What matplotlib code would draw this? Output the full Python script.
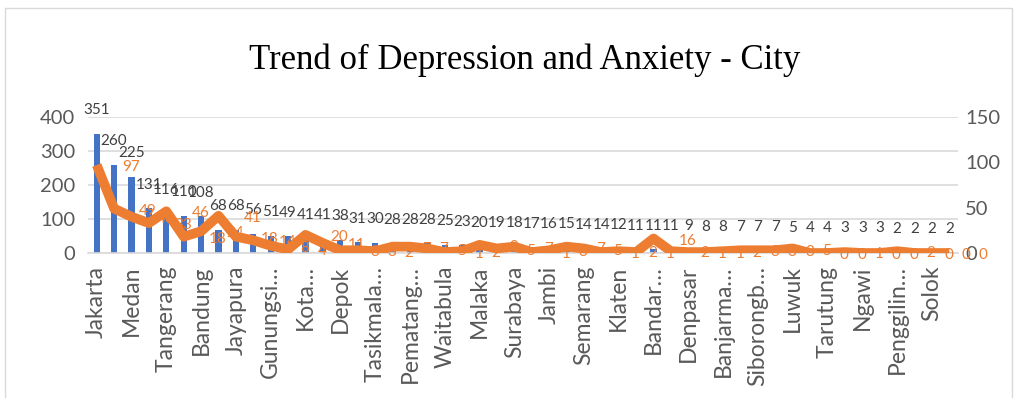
import matplotlib
matplotlib.use("Agg")
import matplotlib.pyplot as plt
from matplotlib.patches import Rectangle
import numpy as np

# Number of cases per city (bars, left axis)
city_counts = [351, 260, 225, 131, 116, 110, 108, 68, 68, 56,
               51, 49, 41, 41, 38, 31, 30, 28, 28, 28,
               25, 23, 20, 19, 18, 17, 16, 15, 14, 14,
               12, 11, 11, 11, 9, 8, 8, 7, 7, 7,
               5, 4, 4, 3, 3, 3, 2, 2, 2, 2]

# Depression / anxiety trend per city (line, right axis)
trend_values = [97, 49, 40, 33, 46, 18, 24, 41, 18, 14,
                8, 4, 20, 11, 3, 3, 2, 7, 7, 5,
                1, 2, 9, 5, 7, 1, 3, 7, 5, 1,
                2, 1, 16, 2, 1, 1, 2, 3, 3, 3,
                5, 0, 0, 1, 0, 0, 2, 0, 0, 0]

# City names shown on the category axis (every second city)
tick_labels = ["Jakarta", "Medan", "Tangerang", "Bandung", "Jayapura",
               "Gunungsi\u2026", "Kota\u2026", "Depok", "Tasikmala\u2026",
               "Pematang\u2026", "Waitabula", "Malaka", "Surabaya", "Jambi",
               "Semarang", "Klaten", "Bandar\u2026", "Denpasar", "Banjarma\u2026",
               "Siborongb\u2026", "Luwuk", "Tarutung", "Ngawi", "Penggilin\u2026",
               "Solok"]

left_ticks = [0, 100, 200, 300, 400]
right_ticks = [0, 50, 100, 150]

BLUE = "#4472C4"
ORANGE = "#ED7D31"
GREY_TXT = "#595959"
GRID = "#D9D9D9"
SANS = "Lato"

fig = plt.figure(figsize=(10.27, 3.98), dpi=100)

# light chart-area border
fig.patches.append(Rectangle((5 / 1027, -0.05), 1007 / 1027, 1.05 - 8 / 398,
                             transform=fig.transFigure, fill=False,
                             edgecolor="#D9D9D9", linewidth=1.0))

ax = fig.add_axes([88 / 1027, (398 - 253) / 398, 870 / 1027, 136 / 398])
x = np.arange(len(city_counts))

ax.bar(x, city_counts, width=0.36, color=BLUE, zorder=2)
ax.set_xlim(-0.5, len(city_counts) - 0.5)
ax.set_ylim(0, 400)
ax.set_yticks(left_ticks)
ax.grid(axis="y", color=GRID, linewidth=1.2, zorder=0)
ax.set_axisbelow(True)
for s in ["top", "right", "left"]:
    ax.spines[s].set_visible(False)
ax.spines["bottom"].set_color(GRID)
ax.spines["bottom"].set_linewidth(1.2)
ax.tick_params(axis="y", length=0, pad=9, labelsize=14.5, labelcolor=GREY_TXT)
ax.tick_params(axis="x", length=0, pad=9)
ax.set_xticks(x[::2])
ax.set_xticklabels(tick_labels, rotation=90, fontsize=16.5, color=GREY_TXT,
                   family=SANS, va="top")
for lbl in ax.get_yticklabels():
    lbl.set_family(SANS)

# bar value labels
for xi, v in zip(x, city_counts):
    ax.annotate(str(v), (xi, v), xytext=(0, 17), textcoords="offset points",
                ha="center", va="center", fontsize=11, color="#404040",
                family=SANS, zorder=3, annotation_clip=False)

ax2 = ax.twinx()
ax2.set_ylim(0, 150)
ax2.set_yticks(right_ticks)
for s in ["top", "right", "left", "bottom"]:
    ax2.spines[s].set_visible(False)
ax2.tick_params(axis="y", length=0, pad=5, labelsize=14.5, labelcolor=GREY_TXT)
for lbl in ax2.get_yticklabels():
    lbl.set_family(SANS)

# trend value labels, then the line over them
for xi, v in zip(x, trend_values):
    ax2.annotate(str(v), (xi, v), xytext=(24.5, -1.5), textcoords="offset points",
                 ha="center", va="center", fontsize=11, color=ORANGE,
                 family=SANS, zorder=3, annotation_clip=False)
ax2.plot(x, trend_values, color=ORANGE, linewidth=7, solid_joinstyle="round",
         solid_capstyle="butt", zorder=4)

fig.text(525 / 1027, 1 - 60 / 398, "Trend of Depression and Anxiety - City",
         ha="center", va="center", fontsize=25, family="Liberation Serif",
         color="black")

fig.savefig("out.png", dpi=100)
